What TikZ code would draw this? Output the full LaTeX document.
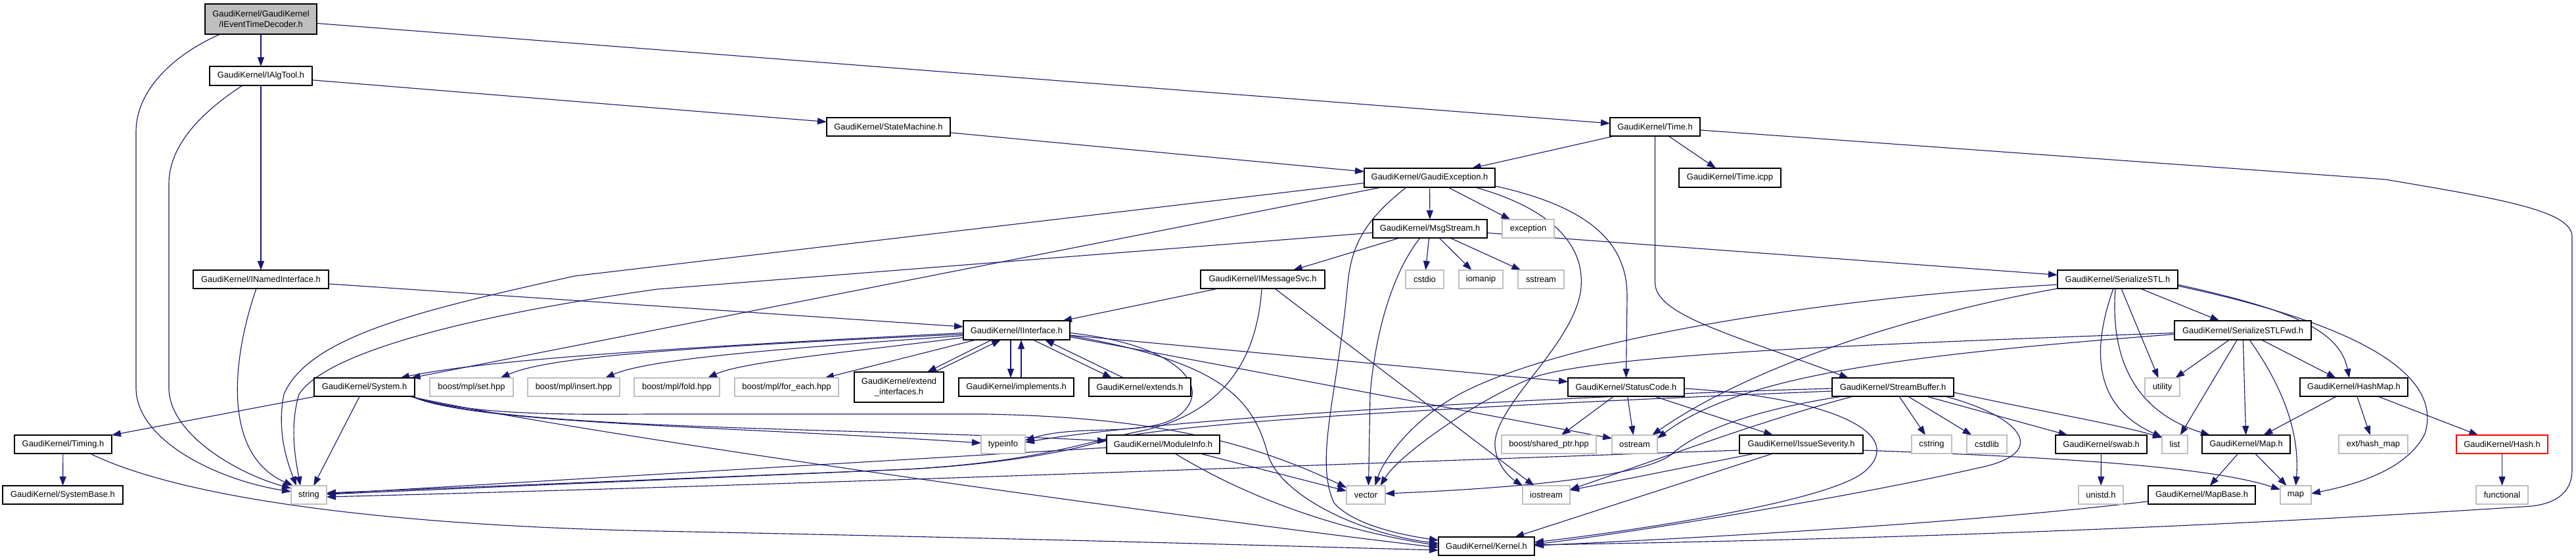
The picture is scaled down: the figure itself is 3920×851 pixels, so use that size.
\documentclass[tikz,border=0pt]{standalone}
\usepackage{fontspec}
\setmainfont{Liberation Sans}
\usetikzlibrary{arrows.meta,calc}
\definecolor{edgeblue}{HTML}{191970}
\definecolor{extgray}{HTML}{BFBFBF}
\pgfdeclarelayer{bg}
\pgfsetlayers{bg,main}
\tikzset{
 base/.style={rectangle, inner sep=0pt, outer sep=0pt, font=\fontsize{9.7}{11.6}\selectfont, align=center, text=black},
 doc/.style={base, draw=black, fill=white, line width=0.95pt},
 ext/.style={base, draw=extgray, fill=white, line width=0.95pt},
 root/.style={base, draw=black, fill=extgray, line width=0.95pt},
 trunc/.style={base, draw=red, fill=white, line width=0.95pt},
 e/.style={draw=edgeblue, line width=0.85pt, -{Triangle[length=10.5pt,width=7.5pt]}},
}
\newcommand\gnode[7]{\node[#6, minimum width={(#4-#2)*0.75pt}, minimum height={(#5-#3)*0.75pt}] (#1) at ({(#2+#4)/2},{(#3+#5)/2}) {#7};}
\begin{document}
\begin{tikzpicture}[x=0.75pt,y=-0.75pt]
\useasboundingbox (0,0) rectangle (3920,851);
\begin{pgfonlayer}{bg}
\fill[white] (0,0) rectangle (3920,851);
\end{pgfonlayer}
% nodes
\gnode{ietd}{312}{6}{482}{52}{root}{GaudiKernel/GaudiKernel\\/IEventTimeDecoder.h}
\gnode{ialgtool}{319}{101}{475}{130}{doc}{GaudiKernel/IAlgTool.h}
\gnode{inamed}{294}{411}{500}{439}{doc}{GaudiKernel/INamedInterface.h}
\gnode{statemachine}{1258}{179}{1446}{207}{doc}{GaudiKernel/StateMachine.h}
\gnode{time}{2450}{179}{2587}{207}{doc}{GaudiKernel/Time.h}
\gnode{gexc}{2076}{256}{2275}{285}{doc}{GaudiKernel/GaudiException.h}
\gnode{timeicpp}{2555}{256}{2710}{285}{doc}{GaudiKernel/Time.icpp}
\gnode{msgstream}{2089}{334}{2263}{362}{doc}{GaudiKernel/MsgStream.h}
\gnode{exception}{2286}{334}{2365}{362}{ext}{exception}
\gnode{imsgsvc}{1827}{411}{2016}{439}{doc}{GaudiKernel/IMessageSvc.h}
\gnode{cstdio}{2139}{411}{2197}{439}{ext}{cstdio}
\gnode{iomanip}{2220}{411}{2287}{439}{ext}{iomanip}
\gnode{sstream}{2310}{411}{2380}{439}{ext}{sstream}
\gnode{serstl}{3131}{411}{3314}{439}{doc}{GaudiKernel/SerializeSTL.h}
\gnode{iinterface}{1466}{488}{1628}{517}{doc}{GaudiKernel/IInterface.h}
\gnode{serfwd}{3309}{488}{3517}{517}{doc}{GaudiKernel/SerializeSTLFwd.h}
\gnode{system}{478}{575}{631}{603}{doc}{GaudiKernel/System.h}
\gnode{mplset}{654}{575}{781}{603}{ext}{boost/mpl/set.hpp}
\gnode{mplinsert}{803}{575}{943}{603}{ext}{boost/mpl/insert.hpp}
\gnode{mplfold}{965}{575}{1095}{603}{ext}{boost/mpl/fold.hpp}
\gnode{mplforeach}{1118}{575}{1276}{603}{ext}{boost/mpl/for\_each.hpp}
\gnode{extendif}{1300}{566}{1436}{612}{doc}{GaudiKernel/extend\\\_interfaces.h}
\gnode{implements}{1459}{575}{1634}{603}{doc}{GaudiKernel/implements.h}
\gnode{extends}{1657}{575}{1812}{603}{doc}{GaudiKernel/extends.h}
\gnode{statuscode}{2386}{575}{2563}{603}{doc}{GaudiKernel/StatusCode.h}
\gnode{streambuf}{2788}{575}{2973}{603}{doc}{GaudiKernel/StreamBuffer.h}
\gnode{utility}{3264}{575}{3317}{603}{ext}{utility}
\gnode{hashmap}{3500}{575}{3664}{603}{doc}{GaudiKernel/HashMap.h}
\gnode{timing}{22}{662}{170}{690}{doc}{GaudiKernel/Timing.h}
\gnode{typeinfo}{1493}{662}{1560}{690}{ext}{typeinfo}
\gnode{moduleinfo}{1684}{662}{1856}{690}{doc}{GaudiKernel/ModuleInfo.h}
\gnode{sharedptr}{2285}{662}{2429}{690}{ext}{boost/shared\_ptr.hpp}
\gnode{ostream}{2453}{662}{2522}{690}{ext}{ostream}
\gnode{issue}{2647}{662}{2835}{690}{doc}{GaudiKernel/IssueSeverity.h}
\gnode{cstring}{2909}{662}{2970}{690}{ext}{cstring}
\gnode{cstdlib}{2993}{662}{3054}{690}{ext}{cstdlib}
\gnode{swab}{3128}{662}{3267}{690}{doc}{GaudiKernel/swab.h}
\gnode{list}{3290}{662}{3329}{690}{ext}{list}
\gnode{maph}{3351}{662}{3485}{690}{doc}{GaudiKernel/Map.h}
\gnode{hashext}{3559}{662}{3664}{690}{ext}{ext/hash\_map}
\gnode{hash}{3738}{662}{3877}{690}{trunc}{GaudiKernel/Hash.h}
\gnode{systembase}{4}{739}{187}{767}{doc}{GaudiKernel/SystemBase.h}
\gnode{string}{443}{739}{497}{767}{ext}{string}
\gnode{vector}{2049}{739}{2108}{767}{ext}{vector}
\gnode{iostream}{2317}{739}{2389}{767}{ext}{iostream}
\gnode{unistd}{3163}{739}{3231}{767}{ext}{unistd.h}
\gnode{mapbase}{3269}{739}{3432}{767}{doc}{GaudiKernel/MapBase.h}
\gnode{mapstd}{3470}{739}{3517}{767}{ext}{map}
\gnode{functional}{3768}{739}{3847}{767}{ext}{functional}
\gnode{kernel}{2189}{817}{2335}{845}{doc}{GaudiKernel/Kernel.h}
% edges
\begin{pgfonlayer}{bg}
% IEventTimeDecoder
\draw[e] (ietd) -- (ialgtool);
\draw[e] ($(ietd.south west)+(23,0)$) .. controls (260,85) and (207,140) .. (207,200) -- (207,590) .. controls (207,670) and (330,730) .. ($(string.west)+(0,-5)$);
\draw[e] (ietd) -- (time);
% IAlgTool
\draw[e] (ialgtool) -- (inamed);
\draw[e] (ialgtool) -- (statemachine);
\draw[e] ($(ialgtool.south west)+(50,0)$) .. controls (300,175) and (257,225) .. (257,280) -- (257,590) .. controls (257,660) and (360,720) .. ($(string.west)+(0,-10)$);
% INamedInterface
\draw[e] (inamed) -- (iinterface);
\draw[e] ($(inamed.south west)+(96,0)$) .. controls (355,540) and (335,690) .. ($(string.north west)+(3,0)$);
% StateMachine
\draw[e] (statemachine) -- (gexc);
% Time
\draw[e] (time) -- (gexc);
\draw[e] (time) -- (timeicpp);
\draw[e] (time.south) -- (2518.5,430) .. controls (2518.5,480) and (2640,510) .. ($(streambuf.north west)+(25,0)$);
\draw[e] (time) -- (3630,273) .. controls (3800,302) and (3914,320) .. (3914,360) -- (3914,715) .. controls (3914,745) and (3895,765) .. (3853,770) .. controls (3400,800) and (2900,820) .. ($(kernel.east)+(0,-2)$);
% GaudiException
\draw[e] (gexc) -- (msgstream);
\draw[e] (gexc) -- (exception);
\draw[e] (gexc) -- (system);
\draw[e] ($(gexc.west)+(0,8)$) -- (874,420) .. controls (650,470) and (470,510) .. (432,600) .. controls (420,660) and (440,710) .. ($(string.north west)+(8,0)$);
\draw[e] ($(gexc.south west)+(64,0)$) .. controls (2070,340) and (2055,380) .. (2050,440) .. controls (2035,600) and (2000,700) .. (2030,765) .. controls (2060,800) and (2140,815) .. ($(kernel.north west)+(0,5)$);
\draw[e] ($(gexc.south east)+(-30,0)$) .. controls (2370,320) and (2415,380) .. (2405,445) .. controls (2390,530) and (2270,620) .. (2275,680) .. controls (2278,710) and (2300,728) .. (iostream.north west);
\draw[e] ($(gexc.south east)+(0,-2)$) .. controls (2420,315) and (2476,370) .. (2476,450) -- (statuscode.north);
% MsgStream
\draw[e] (msgstream) -- (imsgsvc);
\draw[e] (msgstream) -- (cstdio);
\draw[e] (msgstream) -- (iomanip);
\draw[e] (msgstream) -- (sstream);
\draw[e] (msgstream) -- (serstl);
\draw[e] ($(msgstream.west)+(0,6)$) -- (1000,440) .. controls (750,475) and (500,530) .. (455,600) .. controls (440,650) and (450,700) .. ($(string.north west)+(14,0)$);
\draw[e] ($(msgstream.south west)+(72,0)$) .. controls (2130,400) and (2095,480) .. (2085,600) -- ($(vector.north)+(4,0)$);
% IMessageSvc
\draw[e] (imsgsvc) -- (iinterface);
\draw[e] (imsgsvc) -- (iostream);
\draw[e] ($(imsgsvc.south west)+(93,0)$) .. controls (1912,560) and (1850,630) .. (1740,655) .. controls (1640,675) and (1580,702) .. (1380,714) -- ($(string.east)+(0,-3)$);
% IInterface
\draw[e] ($(iinterface.west)+(0,4)$) .. controls (1100,525) and (750,545) .. ($(system.north east)+(-22,0)$);
\draw[e] ($(iinterface.west)+(0,6)$) .. controls (1000,530) and (830,545) .. ($(mplset.north)+(44,0)$);
\draw[e] ($(iinterface.west)+(0,8)$) .. controls (1200,530) and (990,545) .. ($(mplinsert.north)+(48,0)$);
\draw[e] ($(iinterface.west)+(0,11)$) .. controls (1300,535) and (1130,550) .. ($(mplfold.north)+(47,0)$);
\draw[e] ($(iinterface.south west)+(19,0)$) -- ($(mplforeach.north)+(58,0)$);
\draw[e] ($(iinterface.south west)+(43,0)$) -- ($(extendif.north east)+(-25,0)$);
\draw[e] ($(extendif.north east)+(-14,0)$) -- ($(iinterface.south west)+(57,0)$);
\draw[e] ($(iinterface.south west)+(72,0)$) -- ($(implements.north west)+(79,0)$);
\draw[e] ($(implements.north west)+(95,0)$) -- ($(iinterface.south west)+(88,0)$);
\draw[e] ($(iinterface.south west)+(106,0)$) -- ($(extends.north west)+(35,0)$);
\draw[e] ($(extends.north west)+(53,0)$) -- ($(iinterface.south west)+(124,0)$);
\draw[e] (iinterface) -- (statuscode);
\draw[e] ($(iinterface.east)+(0,10)$) -- ($(ostream.north west)+(0,5)$);
\draw[e] ($(iinterface.east)+(0,4)$) .. controls (1800,525) and (1850,595) .. (1790,635) .. controls (1740,665) and (1640,645) .. ($(typeinfo.east)+(0,-6)$);
\draw[e] ($(iinterface.east)+(0,8)$) .. controls (1850,550) and (1905,600) .. (1929,690) .. controls (1945,750) and (2060,810) .. ($(kernel.west)+(0,-4)$);
% System
\draw[e] (system) -- (string);
\draw[e] (system) -- (timing);
\draw[e] ($(system.south east)+(-5,0)$) .. controls (720,635) and (900,630) .. (1000,630) -- (1500,630) .. controls (1750,635) and (1900,670) .. ($(vector.north west)+(0,3)$);
\draw[e] ($(system.south east)+(-5,0)$) .. controls (720,645) and (1100,648) .. ($(typeinfo.west)+(0,-2)$);
\draw[e] ($(system.south east)+(-5,0)$) .. controls (760,655) and (1300,650) .. ($(moduleinfo.west)+(0,-5)$);
\draw[e] ($(system.south east)+(-8,0)$) .. controls (900,665) and (1900,800) .. ($(kernel.west)+(0,2)$);
% Timing
\draw[e] (timing) -- (systembase);
\draw[e] ($(timing.south east)+(-33,0)$) .. controls (280,760) and (600,800) .. (1000,808) .. controls (1600,820) and (2000,832) .. ($(kernel.west)+(0,6)$);
% ModuleInfo
\draw[e] (moduleinfo) -- (string);
\draw[e] ($(moduleinfo.south east)+(-30,0)$) -- ($(vector.north west)+(0,8)$);
\draw[e] ($(moduleinfo.south west)+(104,0)$) .. controls (1870,740) and (2000,800) .. ($(kernel.west)+(0,-1)$);
% StatusCode
\draw[e] (statuscode) -- (sharedptr);
\draw[e] (statuscode) -- (ostream);
\draw[e] (statuscode) -- (issue);
\draw[e] ($(statuscode.east)+(0,2)$) .. controls (2790,605) and (2900,660) .. (2840,715) .. controls (2790,765) and (2450,812) .. ($(kernel.east)+(0,-6)$);
% IssueSeverity
\draw[e] (issue) -- (kernel);
\draw[e] (issue) -- (iostream);
\draw[e] ($(issue.west)+(0,9)$) .. controls (2200,700) and (1300,735) .. ($(string.east)+(0,3)$);
\draw[e] ($(issue.east)+(0,9)$) .. controls (3050,693) and (3350,705) .. ($(mapstd.west)+(0,-8)$);
% StreamBuffer
\draw[e] (streambuf) -- (cstring);
\draw[e] (streambuf) -- (cstdlib);
\draw[e] (streambuf) -- (swab);
\draw[e] ($(streambuf.east)+(0,8)$) .. controls (3100,625) and (3220,645) .. ($(list.north west)+(0,4)$);
\draw[e] ($(streambuf.west)+(0,2)$) .. controls (2300,605) and (1750,640) .. ($(typeinfo.east)+(0,-3)$);
\draw[e] ($(streambuf.west)+(0,6)$) .. controls (2300,615) and (1800,640) .. (1680,670) .. controls (1620,690) and (1500,708) .. (1380,714) -- ($(string.east)+(0,-1)$);
\draw[e] ($(streambuf.south west)+(16,0)$) .. controls (2690,620) and (2590,650) .. (2545,690) .. controls (2500,730) and (2250,745) .. ($(vector.east)+(0,-2)$);
\draw[e] ($(streambuf.south west)+(32,0)$) .. controls (2680,640) and (2520,700) .. ($(iostream.east)+(0,-8)$);
\draw[e] ($(streambuf.south east)+(-13,0)$) .. controls (3080,635) and (3120,690) .. (3010,712) .. controls (2800,760) and (2450,815) .. ($(kernel.east)+(0,-3)$);
% SerializeSTL
\draw[e] (serstl) -- (serfwd);
\draw[e] ($(serstl.south west)+(97,0)$) -- ($(utility.north)+(-6,0)$);
\draw[e] ($(serstl.south west)+(85,0)$) .. controls (3180,540) and (3190,620) .. ($(list.north west)+(0,3)$);
\draw[e] ($(serstl.south west)+(88,0)$) .. controls (3210,560) and (3260,630) .. ($(maph.north west)+(12,0)$);
\draw[e] ($(serstl.east)+(0,8)$) .. controls (3480,470) and (3560,500) .. ($(hashmap.north west)+(75,0)$);
\draw[e] ($(serstl.east)+(0,10)$) .. controls (3620,500) and (3715,580) .. (3690,660) .. controls (3660,720) and (3570,740) .. ($(mapstd.east)+(0,-2)$);
\draw[e] ($(serstl.west)+(0,8)$) .. controls (2750,455) and (2380,520) .. (2230,595) .. controls (2150,635) and (2105,700) .. ($(vector.north)+(14,0)$);
\draw[e] (serstl.south west) .. controls (2900,480) and (2660,560) .. ($(ostream.north east)+(-8,0)$);
% SerializeSTLFwd
\draw[e] ($(serfwd.west)+(0,4)$) .. controls (2800,525) and (2450,540) .. (2340,572) .. controls (2260,600) and (2130,690) .. ($(vector.north)+(22,0)$);
\draw[e] ($(serfwd.west)+(0,6)$) .. controls (2900,540) and (2650,570) .. ($(ostream.north east)+(0,5)$);
\draw[e] (serfwd) -- (utility);
\draw[e] (serfwd) -- (list);
\draw[e] (serfwd) -- (maph);
\draw[e] ($(serfwd.south)+(10,0)$) .. controls (3475,590) and (3500,660) .. (mapstd.north);
\draw[e] (serfwd) -- (hashmap);
% HashMap, Map, others
\draw[e] (hashmap) -- (maph);
\draw[e] (hashmap) -- (hashext);
\draw[e] (hashmap) -- (hash);
\draw[e] (maph) -- (mapbase);
\draw[e] (maph) -- (mapstd);
\draw[e] (mapbase) .. controls (3000,795) and (2600,818) .. ($(kernel.east)+(0,-1)$);
\draw[e] (swab) -- (unistd);
\draw[e] (hash) -- (functional);
\end{pgfonlayer}
\end{tikzpicture}
\end{document}
